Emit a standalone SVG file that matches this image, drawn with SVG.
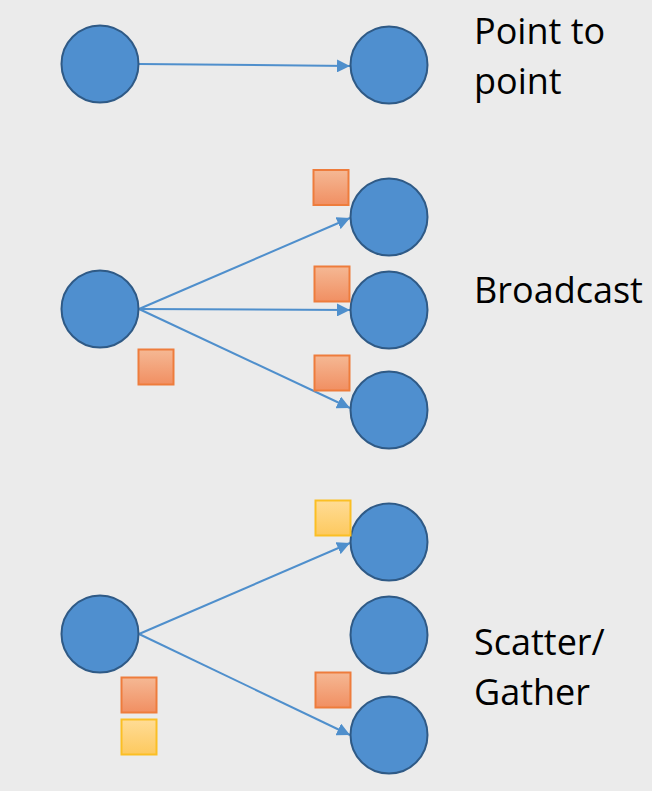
<svg xmlns="http://www.w3.org/2000/svg" width="652" height="791" viewBox="0 0 652 791">
<defs>
<linearGradient id="gOr" x1="0" y1="0" x2="0" y2="1"><stop offset="0" stop-color="#f5b894"/><stop offset="1" stop-color="#f18f62"/></linearGradient>
<linearGradient id="gYe" x1="0" y1="0" x2="0" y2="1"><stop offset="0" stop-color="#ffdc96"/><stop offset="1" stop-color="#fdc95e"/></linearGradient>
<marker id="ah" viewBox="0 0 10 10" refX="10" refY="5" markerWidth="6.5" markerHeight="6.5" orient="auto" markerUnits="strokeWidth"><path d="M0,0 L10,5 L0,10 z" fill="#4f8fcc"/></marker>
<style>
.n{fill:#4f8fcf;stroke:#2f5a86;stroke-width:2}
.or{fill:url(#gOr);stroke:#ee7c3c;stroke-width:2}
.ye{fill:url(#gYe);stroke:#fbbf24;stroke-width:2}
.c{stroke:#4f8fcc;stroke-width:2;fill:none;marker-end:url(#ah)}
.t{font-family:"Open Sans","Noto Sans",sans-serif;font-size:36px;fill:#000}
</style>
</defs>
<rect width="652" height="791" fill="#ebebeb"/>
<g id="connectors">
<line class="c" x1="139" y1="64" x2="350" y2="66"/>
<line class="c" x1="139" y1="309" x2="350" y2="218"/>
<line class="c" x1="139" y1="309" x2="350" y2="310"/>
<line class="c" x1="139" y1="309" x2="350" y2="408"/>
<line class="c" x1="139" y1="634" x2="350" y2="543"/>
<line class="c" x1="139" y1="634" x2="350" y2="735"/>
</g>
<g id="p2p-src"><circle class="n" cx="100" cy="64" r="38.5"/></g>
<g id="p2p-dst"><circle class="n" cx="389" cy="65" r="38.5"/></g>
<g id="bc-src"><circle class="n" cx="100" cy="309" r="38.5"/></g>
<g id="bc-dst1"><circle class="n" cx="389" cy="217" r="38.5"/></g>
<g id="bc-dst2"><circle class="n" cx="389" cy="310" r="38.5"/></g>
<g id="bc-dst3"><circle class="n" cx="389" cy="410" r="38.5"/></g>
<g id="sg-src"><circle class="n" cx="100" cy="634" r="38.5"/></g>
<g id="sg-dst1"><circle class="n" cx="389" cy="542" r="38.5"/></g>
<g id="sg-dst2"><circle class="n" cx="389" cy="635" r="38.5"/></g>
<g id="sg-dst3"><circle class="n" cx="389" cy="735" r="38.5"/></g>
<g id="bc-data">
<rect class="or" x="138.5" y="349.5" width="35" height="35"/>
<rect class="or" x="313.5" y="170" width="35" height="35"/>
<rect class="or" x="314.5" y="266.5" width="35" height="35"/>
<rect class="or" x="314.5" y="355.5" width="35" height="35"/>
</g>
<g id="sg-data">
<rect class="or" x="121.5" y="677.5" width="35" height="35"/>
<rect class="ye" x="121.5" y="719.5" width="35" height="35"/>
<rect class="ye" x="315.5" y="500.5" width="35" height="35"/>
<rect class="or" x="315.5" y="672.5" width="35" height="35"/>
</g>
<g id="labels">
<text class="t" x="474" y="44">Point to</text>
<text class="t" x="474" y="94">point</text>
<text class="t" x="474" y="303">Broadcast</text>
<text class="t" x="474" y="655">Scatter/</text>
<text class="t" x="474" y="705">Gather</text>
</g>
</svg>
